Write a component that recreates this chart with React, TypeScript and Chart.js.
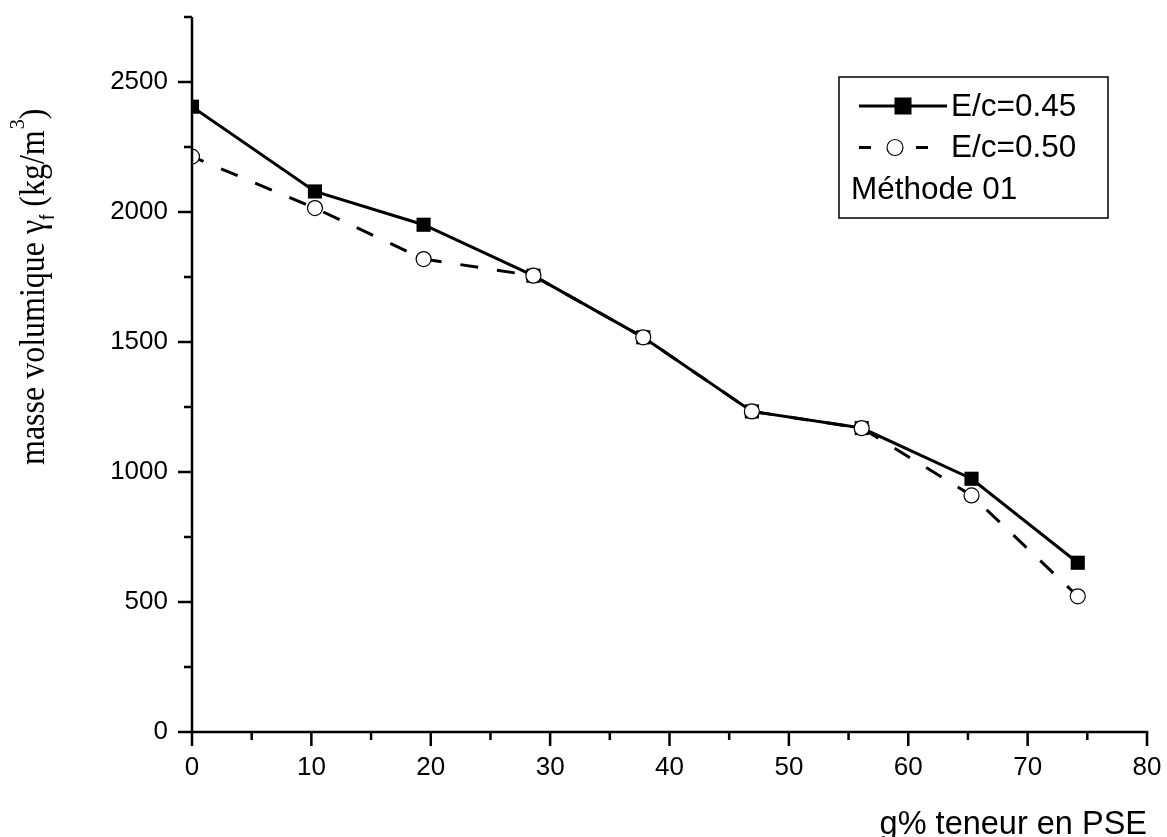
import React, { useEffect, useRef } from "react";
import { Chart, registerables } from "chart.js";

Chart.register(...registerables);

// ---- data ----
const pseContent = [0, 10.3, 19.4, 28.6, 37.8, 46.9, 56.1, 65.3, 74.2];
const density045 = [2405, 2079, 1951, 1755, 1518, 1233, 1169, 974, 651];
const density050 = [2213, 2015, 1819, 1755, 1518, 1233, 1169, 910, 522];

const xMajorTicks = [0, 10, 20, 30, 40, 50, 60, 70, 80];
const xMinorTicks = [5, 15, 25, 35, 45, 55, 65, 75];
const yMajorTicks = [0, 500, 1000, 1500, 2000, 2500];
const yMinorTicks = [250, 750, 1250, 1750, 2250, 2750];

const seriesLabels = ["E/c=0.45", "E/c=0.50"];
const legendNote = "Méthode 01";
const xTitle = "g% teneur en PSE";
const yTitleMain = "masse volumique ";
const yTitleGreek = "γ";
const yTitleSub = "f";
const yTitleUnit = " (kg/m";
const yTitleSup = "3";
const yTitleEnd = ")";

const SANS = "'Liberation Sans', Arial, sans-serif";
const SERIF = "'Liberation Serif', 'Times New Roman', serif";

const decorPlugin = {
  id: "decor",
  afterDraw(chart: any) {
    const ctx = chart.ctx as CanvasRenderingContext2D;
    const area = chart.chartArea;
    const xs = chart.scales.x;
    const ys = chart.scales.y;
    ctx.save();
    ctx.strokeStyle = "#000";
    ctx.fillStyle = "#000";
    ctx.lineWidth = 2.5;
    ctx.lineCap = "butt";
    ctx.setLineDash([]);

    // axis lines
    ctx.beginPath();
    ctx.moveTo(area.left, area.top);
    ctx.lineTo(area.left, area.bottom + 1.25);
    ctx.moveTo(area.left - 1.25, area.bottom);
    ctx.lineTo(area.right + 1.25, area.bottom);
    ctx.stroke();

    // y ticks
    ctx.beginPath();
    yMajorTicks.forEach((v) => {
      const p = ys.getPixelForValue(v);
      ctx.moveTo(area.left - 14, p);
      ctx.lineTo(area.left, p);
    });
    yMinorTicks.forEach((v) => {
      const p = ys.getPixelForValue(v);
      ctx.moveTo(area.left - 8, p);
      ctx.lineTo(area.left, p);
    });
    // x ticks
    xMajorTicks.forEach((v) => {
      const p = xs.getPixelForValue(v);
      ctx.moveTo(p, area.bottom);
      ctx.lineTo(p, area.bottom + 14);
    });
    xMinorTicks.forEach((v) => {
      const p = xs.getPixelForValue(v);
      ctx.moveTo(p, area.bottom);
      ctx.lineTo(p, area.bottom + 8);
    });
    ctx.stroke();

    // x title
    ctx.font = `32.5px ${SANS}`;
    ctx.textAlign = "right";
    ctx.textBaseline = "alphabetic";
    ctx.fillText(xTitle, area.right, 834);

    // y title (rotated)
    ctx.save();
    ctx.translate(44, 465);
    ctx.rotate(-Math.PI / 2);
    ctx.scale(1, 1.1);
    ctx.textAlign = "left";
    ctx.textBaseline = "alphabetic";
    let cx = 0;
    ctx.font = `32px ${SERIF}`;
    ctx.fillText(yTitleMain, cx, 0);
    cx += ctx.measureText(yTitleMain).width;
    ctx.fillText(yTitleGreek, cx, 0);
    cx += ctx.measureText(yTitleGreek).width;
    ctx.font = `18px ${SANS}`;
    ctx.fillText(yTitleSub, cx, 9);
    cx += ctx.measureText(yTitleSub).width;
    ctx.font = `32px ${SERIF}`;
    ctx.fillText(yTitleUnit, cx, 0);
    cx += ctx.measureText(yTitleUnit).width;
    ctx.font = `20px ${SERIF}`;
    ctx.fillText(yTitleSup, cx + 1, -18);
    cx += ctx.measureText(yTitleSup).width + 1;
    ctx.font = `32px ${SERIF}`;
    ctx.fillText(yTitleEnd, cx, 0);
    ctx.restore();

    // legend box
    const bx = 839, by = 77, bw = 269, bh = 141;
    ctx.lineWidth = 1.5;
    ctx.strokeRect(bx, by, bw, bh);

    ctx.font = `31.5px ${SANS}`;
    ctx.textAlign = "left";
    ctx.textBaseline = "middle";
    const rows = [106, 147.5, 189];

    // row 1: solid line + filled square
    ctx.lineWidth = 3;
    ctx.beginPath();
    ctx.moveTo(859, rows[0]);
    ctx.lineTo(947, rows[0]);
    ctx.stroke();
    ctx.fillRect(903 - 8.5, rows[0] - 8.5, 17, 17);
    ctx.fillText(seriesLabels[0], 951, rows[0] + 1);

    // row 2: dashed line + open circle
    ctx.beginPath();
    ctx.moveTo(859, rows[1]);
    ctx.lineTo(871, rows[1]);
    ctx.moveTo(916, rows[1]);
    ctx.lineTo(928, rows[1]);
    ctx.stroke();
    ctx.beginPath();
    ctx.arc(895, rows[1], 8, 0, Math.PI * 2);
    ctx.fillStyle = "#fff";
    ctx.fill();
    ctx.lineWidth = 1.2;
    ctx.stroke();
    ctx.fillStyle = "#000";
    ctx.fillText(seriesLabels[1], 951, rows[1] + 1);

    // row 3: note
    ctx.fillText(legendNote, 851, rows[2] + 1);

    ctx.restore();
  },
};

export default function App() {
  const canvasRef = useRef<HTMLCanvasElement | null>(null);

  useEffect(() => {
    const canvas = canvasRef.current;
    if (!canvas) return;
    const chart = new Chart(canvas, {
      type: "line",
      data: {
        datasets: [
          {
            label: seriesLabels[0],
            data: pseContent.map((x, i) => ({ x, y: density045[i] })),
            borderColor: "#000",
            backgroundColor: "#000",
            borderWidth: 3,
            pointStyle: "rect",
            pointRadius: 10,
            pointBorderWidth: 0,
            pointBackgroundColor: "#000",
            pointBorderColor: "#000",
            tension: 0,
            order: 1,
            clip: { left: 0, top: false, right: false, bottom: false } as any,
          },
          {
            label: seriesLabels[1],
            data: pseContent.map((x, i) => ({ x, y: density050[i] })),
            borderColor: "#000",
            backgroundColor: "#fff",
            borderWidth: 3,
            borderDash: [18, 19],
            borderDashOffset: 5.5,
            pointStyle: "circle",
            pointRadius: 7.5,
            pointBorderWidth: 1.2,
            pointBackgroundColor: "#fff",
            pointBorderColor: "#000",
            tension: 0,
            order: 0,
            clip: { left: 0, top: false, right: false, bottom: false } as any,
          },
        ],
      },
      options: {
        animation: false,
        responsive: true,
        maintainAspectRatio: false,
        layout: { padding: { top: 17, right: 20, left: 0, bottom: 0 } },
        plugins: {
          legend: { display: false },
          tooltip: { enabled: false },
          title: { display: false },
        },
        scales: {
          x: {
            type: "linear",
            min: 0,
            max: 80,
            afterBuildTicks: (scale: any) => {
              scale.ticks = xMajorTicks.map((v) => ({ value: v }));
            },
            afterFit: (scale: any) => {
              scale.height = 105;
              scale.paddingLeft = 0;
              scale.paddingRight = 0;
              scale.paddingTop = 0;
              scale.paddingBottom = 0;
            },
            grid: { display: true, drawOnChartArea: false, drawTicks: false },
            border: { display: false },
            ticks: {
              color: "#000",
              padding: 20,
              maxRotation: 0,
              autoSkip: false,
              font: { family: SANS, size: 26 },
              callback: (v: any) => String(v),
            },
          },
          y: {
            type: "linear",
            min: 0,
            max: 2750,
            afterBuildTicks: (scale: any) => {
              scale.ticks = yMajorTicks.map((v) => ({ value: v }));
            },
            afterFit: (scale: any) => {
              scale.width = 192;
              scale.paddingLeft = 0;
              scale.paddingRight = 0;
              scale.paddingTop = 0;
              scale.paddingBottom = 0;
            },
            grid: { display: true, drawOnChartArea: false, drawTicks: false },
            border: { display: false },
            ticks: {
              color: "#000",
              padding: 24,
              autoSkip: false,
              font: { family: SANS, size: 26 },
              callback: (v: any) => String(v),
            },
          },
        },
      },
      plugins: [decorPlugin],
    });
    return () => chart.destroy();
  }, []);

  return (
    <div
      style={{
        position: "fixed",
        left: 0,
        top: 0,
        width: 1167,
        height: 837,
        background: "#fff",
      }}
    >
      <canvas ref={canvasRef} />
    </div>
  );
}
